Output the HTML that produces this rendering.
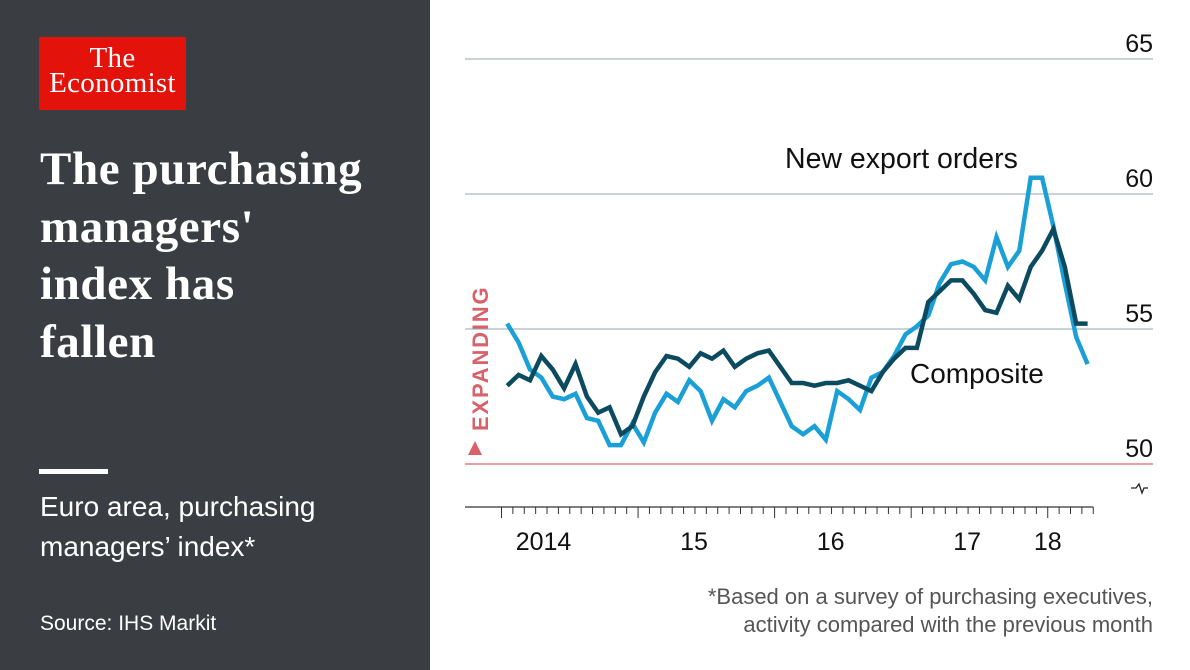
<!DOCTYPE html>
<html><head><meta charset="utf-8"><style>
body{margin:0;width:1190px;height:670px;overflow:hidden;background:#fff;font-family:"Liberation Sans",sans-serif;}
#left{position:absolute;left:0;top:0;width:430px;height:670px;background:#3a3e42;}
.logo{position:absolute;left:39px;top:37px;width:147px;height:73px;background:#e3120b;color:#fff;font-family:"Liberation Serif",serif;text-align:center;font-size:29px;line-height:25px;padding-top:9px;box-sizing:border-box;letter-spacing:0.3px;}
.title{position:absolute;left:40px;top:141px;color:#fff;font-family:"Liberation Serif",serif;font-weight:bold;font-size:47px;line-height:57.5px;letter-spacing:0.6px;}
.bar{position:absolute;left:39px;top:469px;width:69px;height:5px;background:#fff;}
.sub{position:absolute;left:40px;top:487px;color:#fff;font-size:28px;line-height:40px;}
.src{position:absolute;left:40px;top:612px;color:#fff;font-size:21px;}
svg{position:absolute;left:0;top:0;}
</style></head><body>
<div id="left">
<div class="logo">The<br>Economist</div>
<div class="title">The purchasing<br>managers'<br>index has<br>fallen</div>
<div class="bar"></div>
<div class="sub">Euro area, purchasing<br>managers’ index*</div>
<div class="src">Source: IHS Markit</div>
</div>
<svg id="chart" width="1190" height="670"></svg>
<script>
const yTicks=[50,55,60,65];
const yearLabels=["2014","15","16","17","18"];
const composite=[52.9,53.3,53.1,54.0,53.5,52.8,53.7,52.5,51.9,52.1,51.1,51.4,52.5,53.4,54.0,53.9,53.6,54.1,53.9,54.2,53.6,53.9,54.1,54.2,53.6,53.0,53.0,52.9,53.0,53.0,53.1,52.9,52.7,53.4,53.9,54.3,54.3,56.0,56.4,56.8,56.8,56.3,55.7,55.6,56.6,56.1,57.3,57.9,58.7,57.3,55.2,55.2];
const exportOrders=[55.2,54.5,53.5,53.2,52.5,52.4,52.6,51.7,51.6,50.7,50.7,51.5,50.8,51.9,52.6,52.3,53.1,52.7,51.6,52.4,52.1,52.7,52.9,53.2,52.3,51.4,51.1,51.4,50.9,52.7,52.4,52.0,53.2,53.4,54.0,54.8,55.1,55.5,56.7,57.4,57.5,57.3,56.8,58.4,57.3,57.9,60.6,60.6,58.8,56.7,54.7,53.7];
const NS="http://www.w3.org/2000/svg";
const svg=document.getElementById('chart');
const x0=501.5, mw=11.38;
function xs(i){return x0+(i+0.5)*mw;}
function ys(v){return 464-(v-50)*27;}
function mk(tag,attrs,parent){const e=document.createElementNS(NS,tag);for(const k in attrs)e.setAttribute(k,attrs[k]);(parent||svg).appendChild(e);return e;}
yTicks.forEach(t=>{
  const l=mk('line',{x1:465,x2:1153,y1:ys(t),y2:ys(t),stroke:t===50?'#e06666':'#a9b7bd','stroke-width':1.3});
  
  
  const tx=mk('text',{x:1153,y:ys(t)-7,'text-anchor':'end','font-size':25,fill:'#111','font-family':'Liberation Sans, sans-serif'});
  tx.textContent=t;
  
  
});
const zz=mk('path',{d:'M1131,488 h5 l3,-4 l3,9 l2,-5 h4',fill:'none',stroke:'#222','stroke-width':1.3});


const ax=mk('line',{x1:465,x2:x0+52*mw,y1:507,y2:507,stroke:'#333','stroke-width':1.3});


for(let k=0;k<=52;k++){
  const major=k%12===0;
  const t=mk('line',{x1:x0+k*mw,x2:x0+k*mw,y1:507,y2:major?518:514,stroke:'#333','stroke-width':1});
  
  
}
yearLabels.forEach((lab,j)=>{
  const off=j===0?42:(j<4?56:0);
  const xc=x0+j*12*mw+off;
  const t=mk('text',{x:xc,y:550,'text-anchor':'middle','font-size':25,fill:'#111','font-family':'Liberation Sans, sans-serif'});
  t.textContent=lab;
  
  
});
function line(arr,color,name){
  const p=mk('path',{d:arr.map((v,i)=>(i?'L':'M')+xs(i).toFixed(1)+','+ys(v).toFixed(1)).join(''),fill:'none',stroke:color,'stroke-width':4.5,'stroke-linejoin':'miter'});
  
  
}
line(exportOrders,'#1aa0d6','export-orders-line');
line(composite,'#0c4a60','composite-line');
function txt(s,x,y,size,anchor,fill,name){
  const t=mk('text',{x:x,y:y,'font-size':size,'text-anchor':anchor,fill:fill,'font-family':'Liberation Sans, sans-serif'});
  t.textContent=s;
  
  
}
txt('New export orders',785,168,28.5,'start','#111','export-orders-label');
txt('Composite',910,383,28,'start','#111','composite-label');
txt('*Based on a survey of purchasing executives,',1153,604,22,'end','#555','footnote-line1');
txt('activity compared with the previous month',1153,632,22,'end','#555','footnote-line2');
const ex=mk('text',{x:0,y:0,'font-size':22,fill:'#d9626a','font-weight':'bold','letter-spacing':1.8,transform:'translate(488,431) rotate(-90)','font-family':'Liberation Sans, sans-serif'});
ex.textContent='EXPANDING';


const tri=mk('path',{d:'M468,455 L482,455 L475,441 Z',fill:'#d9626a'});


</script>
</body></html>
